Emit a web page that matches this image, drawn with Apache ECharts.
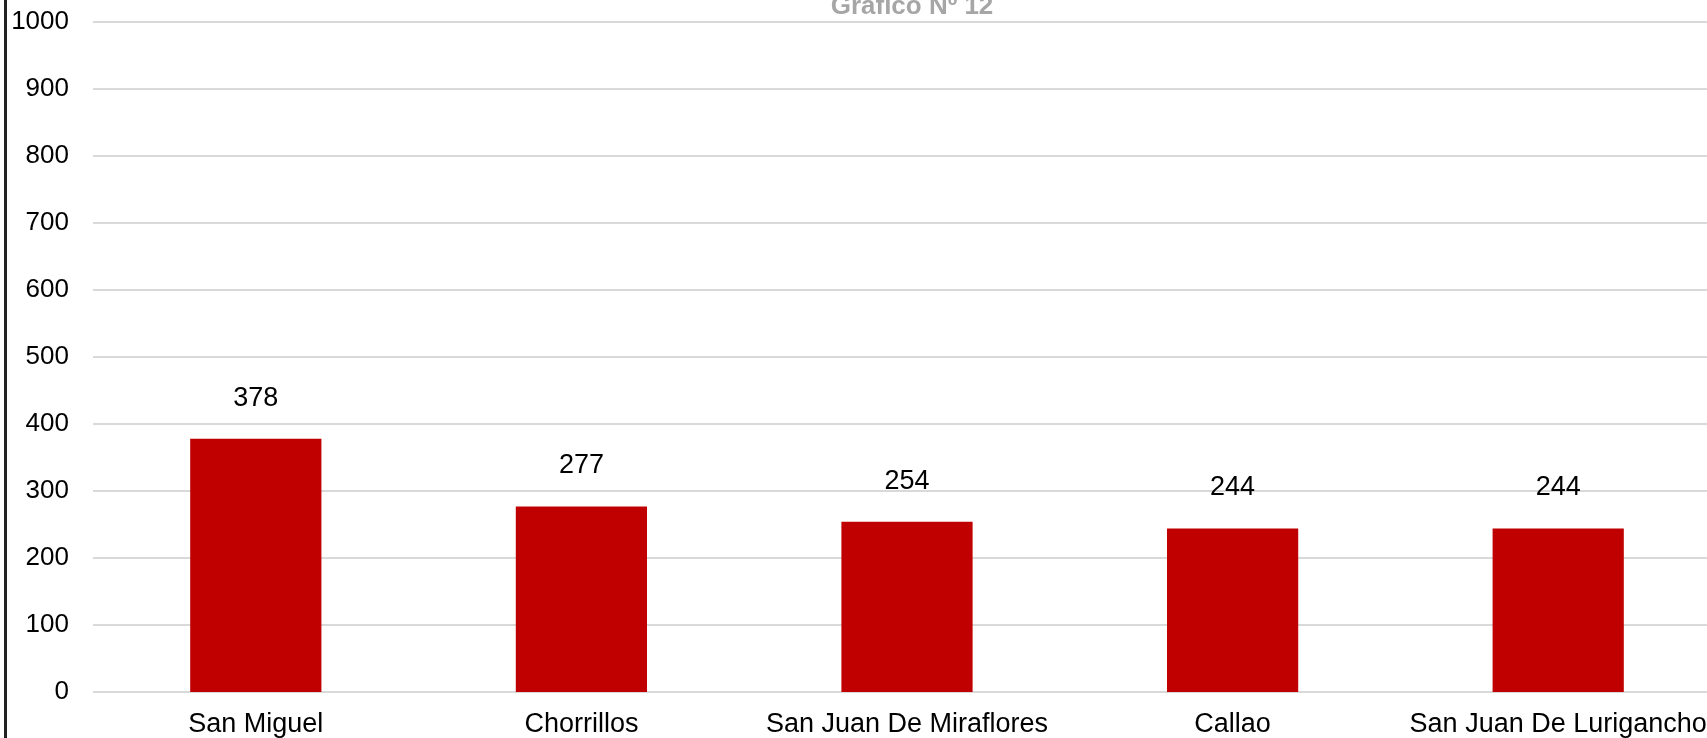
<!DOCTYPE html>
<html>
<head>
<meta charset="utf-8">
<script src="https://cdn.jsdelivr.net/npm/echarts@6/dist/echarts.min.js"></script>
<style>
html,body{margin:0;padding:0;background:#fff;overflow:hidden;width:1707px;height:738px;}
#chart{position:absolute;left:0;top:0;width:1721px;height:738px;}
#edge{position:absolute;left:4px;top:0;width:3px;height:738px;background:#222;}
</style>
</head>
<body>
<div id="chart"></div>
<div id="edge"></div>
<script>
const titleText = 'Gráfico Nº 12';
const categories = ['San Miguel', 'Chorrillos', 'San Juan De Miraflores', 'Callao', 'San Juan De Lurigancho'];
const values = [378, 277, 254, 244, 244];
const yMin = 0, yMax = 1000, yStep = 100;

const chart = echarts.init(document.getElementById('chart'));
const FONT = 'Liberation Sans, Arial, sans-serif';
chart.setOption({
  animation: false,
  title: {
    text: titleText,
    left: 907, textAlign: 'center',
    top: -11,
    textStyle: {color: '#a6a6a6', fontSize: 26, fontWeight: 'bold', fontFamily: FONT}
  },
  grid: {left: 93, right: 0, top: 22, bottom: 45, containLabel: false},
  xAxis: {
    type: 'category',
    data: categories,
    axisLine: {show: false},
    axisTick: {show: false},
    axisLabel: {color: '#000', fontSize: 27, fontFamily: FONT, margin: 19, interval: 0}
  },
  yAxis: {
    type: 'value',
    min: yMin, max: yMax, interval: yStep,
    axisLine: {show: false},
    axisTick: {show: false},
    axisLabel: {color: '#000', fontSize: 26, fontFamily: FONT, margin: 24, formatter: v => String(v)},
    splitLine: {lineStyle: {color: '#d9d9d9', width: 2}}
  },
  series: [{
    type: 'bar',
    data: values,
    barWidth: '40.3%',
    itemStyle: {color: '#c00000'},
    label: {show: true, position: 'top', distance: 27, color: '#000', fontSize: 27, fontFamily: FONT}
  }]
});
</script>
</body>
</html>
